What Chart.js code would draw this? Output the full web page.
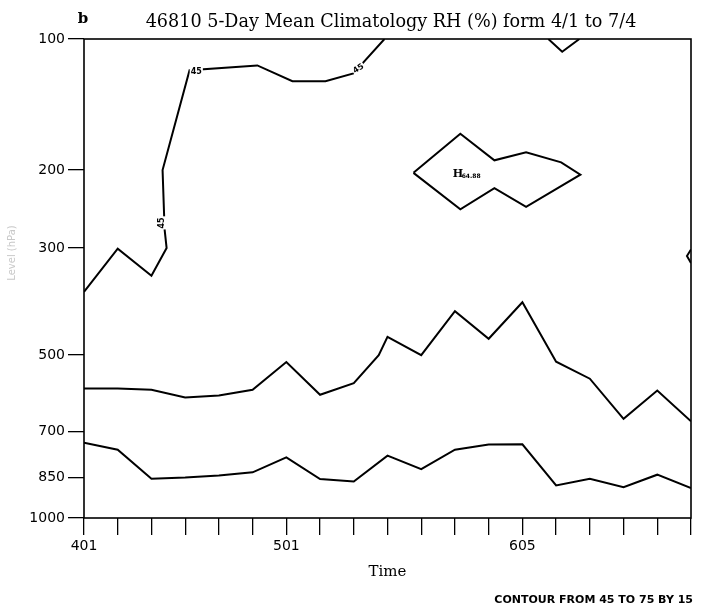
<!DOCTYPE html>
<html>
<head>
<meta charset="utf-8">
<script src="https://cdn.jsdelivr.net/npm/chart.js@4.4.1/dist/chart.umd.min.js"></script>
<style>
  html, body { margin: 0; padding: 0; background: #fff; }
</style>
</head>
<body>
<canvas id="rhChart" width="703" height="609"></canvas>
<script>
// time axis, 5-day steps (month + day)
const timeLabels = ['401', '406', '411', '416', '421', '426', '501', '506', '511', '516',
                    '521', '526', '531', '605', '610', '615', '620', '625', '630'];
const labeledTimes = ['401', '501', '605'];
const pressureTicks = [100, 200, 300, 500, 700, 850, 1000];

// 45% contour (time = step index, pres = hPa)
const rh45Time = [0, 1, 2, 2.45, 2.39, 2.33, 3.13, 5.14, 6.18, 7.16, 7.99, 8.91];
const rh45Pres = [372, 301, 344, 300, 273, 200, 118, 115, 125, 125, 120, 100];
const rh45TopTime = [13.77, 14.18, 14.69];
const rh45TopPres = [100, 107, 100];
const rh45EdgeTime = [18, 17.88, 18];
const rh45EdgePres = [302, 312, 323];

// 60% contour, closed around the high
const rh60HighTime = [9.77, 11.16, 12.17, 13.11, 14.15, 14.72, 13.11, 12.17, 11.16, 9.77];
const rh60HighPres = [203, 165, 190, 182, 192, 205, 243, 220, 246, 203];

// 60% contour, mid levels
const rh60Time = [0, 1, 2, 3, 4, 5, 6, 7, 8, 8.74, 9, 10, 11, 12, 13, 14, 15, 16, 17, 18];
const rh60Pres = [581, 581, 584, 604, 599, 584, 516, 597, 567, 500, 460, 500, 408, 464, 391, 515, 556, 663, 586, 670];

// 75% contour, low levels
const rh75Time = [0, 1, 2, 3, 4, 5, 6, 7, 8, 9, 10, 11, 12, 13, 14, 15, 16, 17, 18];
const rh75Pres = [734, 756, 853, 849, 842, 831, 781, 854, 863, 775, 820, 756, 740, 739, 877, 853, 883, 839, 886];

// contour labels
const labelText = ['45', '45', '45'];
const labelTime = [3.33, 8.14, 2.30];
const labelPres = [119, 117, 264];

const highValue = '64.88';
const highTime = 11.05;
const highPres = 205;

const titleText = '46810 5-Day Mean Climatology RH (%) form 4/1 to 7/4';
const footerText = 'CONTOUR FROM 45 TO 75 BY 15';

// standard atmosphere height (km) for a pressure in hPa
function stdHeight(p) {
    if (p >= 226.32) return 44.331 * (1 - Math.pow(p / 1013.25, 0.1903));
    return 11 + 6.3416 * Math.log(226.32 / p);
}
function stdPressure(z) {
    if (z <= 11) return 1013.25 * Math.pow(1 - z / 44.331, 1 / 0.1903);
    return 226.32 * Math.exp(-(z - 11) / 6.3416);
}

// pressure axis spaced by standard height
class PressureScale extends Chart.LinearScale {
    static id = 'pressure';
    buildTicks() {
        return pressureTicks.map(v => ({ value: v }));
    }
    getPixelForValue(value) {
        const z0 = stdHeight(this.max);
        const z1 = stdHeight(this.min);
        return this.getPixelForDecimal((stdHeight(value) - z0) / (z1 - z0));
    }
    getValueForPixel(pixel) {
        const z0 = stdHeight(this.max);
        const z1 = stdHeight(this.min);
        return stdPressure(z0 + this.getDecimalForPixel(pixel) * (z1 - z0));
    }
}
Chart.register(PressureScale);

function toPoints(ts, ps) {
    return ts.map((t, i) => ({ x: t, y: ps[i] }));
}

const lineStyle = {
    borderColor: '#000',
    borderWidth: 2,
    pointRadius: 0,
    fill: false,
    tension: 0
};

const decorPlugin = {
    id: 'decor',
    afterDraw(chart) {
        const { ctx, chartArea: a, scales: { x, y } } = chart;
        ctx.save();
        ctx.strokeStyle = '#000';
        ctx.lineWidth = 1.6;
        ctx.strokeRect(a.left, a.top, a.right - a.left, a.bottom - a.top);

        ctx.fillStyle = '#000';
        ctx.textBaseline = 'middle';
        ctx.textAlign = 'center';
        ctx.font = 'bold 15px "DejaVu Serif"';
        ctx.fillText('b', 83, 19);
        ctx.font = '17.6px "DejaVu Serif"';
        ctx.fillText(titleText, 391, 22);

        ctx.textAlign = 'right';
        ctx.font = 'bold 11px "DejaVu Sans"';
        ctx.fillText(footerText, 693, 600);

        // faint axis title, as in the scan
        ctx.save();
        ctx.translate(12, 253);
        ctx.rotate(-Math.PI / 2);
        ctx.textAlign = 'center';
        ctx.fillStyle = '#c8c8c8';
        ctx.font = '10px "DejaVu Sans"';
        ctx.fillText('Level (hPa)', 0, 0);
        ctx.restore();

        const angles = [0, -0.6, -Math.PI / 2];
        ctx.font = 'bold 8px "DejaVu Sans"';
        ctx.textAlign = 'center';
        labelText.forEach((t, i) => {
            ctx.save();
            ctx.translate(x.getPixelForValue(labelTime[i]), y.getPixelForValue(labelPres[i]));
            ctx.rotate(angles[i]);
            const w = ctx.measureText(t).width;
            ctx.fillStyle = '#fff';
            ctx.fillRect(-w / 2 - 1, -5, w + 2, 10);
            ctx.fillStyle = '#000';
            ctx.fillText(t, 0, 0);
            ctx.restore();
        });

        const hx = x.getPixelForValue(highTime);
        const hy = y.getPixelForValue(highPres);
        ctx.textAlign = 'left';
        ctx.font = 'bold 11px "DejaVu Serif"';
        ctx.fillText('H', hx - 4, hy - 1);
        ctx.font = 'bold 6px "DejaVu Sans"';
        ctx.fillText(highValue, hx + 5, hy + 2);
        ctx.restore();
    }
};

new Chart(document.getElementById('rhChart'), {
    type: 'line',
    data: {
        datasets: [
            { ...lineStyle, data: toPoints(rh45Time, rh45Pres) },
            { ...lineStyle, data: toPoints(rh45TopTime, rh45TopPres) },
            { ...lineStyle, data: toPoints(rh45EdgeTime, rh45EdgePres) },
            { ...lineStyle, data: toPoints(rh60HighTime, rh60HighPres) },
            { ...lineStyle, data: toPoints(rh60Time, rh60Pres) },
            { ...lineStyle, data: toPoints(rh75Time, rh75Pres) }
        ]
    },
    options: {
        responsive: false,
        animation: false,
        devicePixelRatio: 1,
        layout: { padding: { top: 39, right: 12, left: 0, bottom: 0 } },
        plugins: {
            legend: { display: false },
            tooltip: { enabled: false },
            title: { display: false }
        },
        scales: {
            x: {
                type: 'linear',
                min: 0,
                max: 18,
                afterFit: s => { s.height = 91; },
                ticks: {
                    stepSize: 1,
                    autoSkip: false,
                    maxRotation: 0,
                    padding: 3,
                    color: '#000',
                    font: { family: 'DejaVu Sans', size: 14 },
                    callback: v => labeledTimes.includes(timeLabels[v]) ? timeLabels[v] : ''
                },
                grid: { drawOnChartArea: false, tickLength: 17, color: '#000', lineWidth: 1.3 },
                border: { display: false },
                title: {
                    display: true,
                    text: 'Time',
                    color: '#000',
                    font: { family: 'DejaVu Serif', size: 15 },
                    padding: { top: 0, bottom: 28 }
                }
            },
            y: {
                type: 'pressure',
                min: 100,
                max: 1000,
                afterFit: s => { s.width = 84; },
                ticks: {
                    autoSkip: false,
                    padding: 3,
                    color: '#000',
                    font: { family: 'DejaVu Sans', size: 14 },
                    callback: v => String(v)
                },
                grid: { drawOnChartArea: false, tickLength: 16, color: '#000', lineWidth: 1.3 },
                border: { display: false }
            }
        }
    },
    plugins: [decorPlugin]
});
</script>
</body>
</html>
